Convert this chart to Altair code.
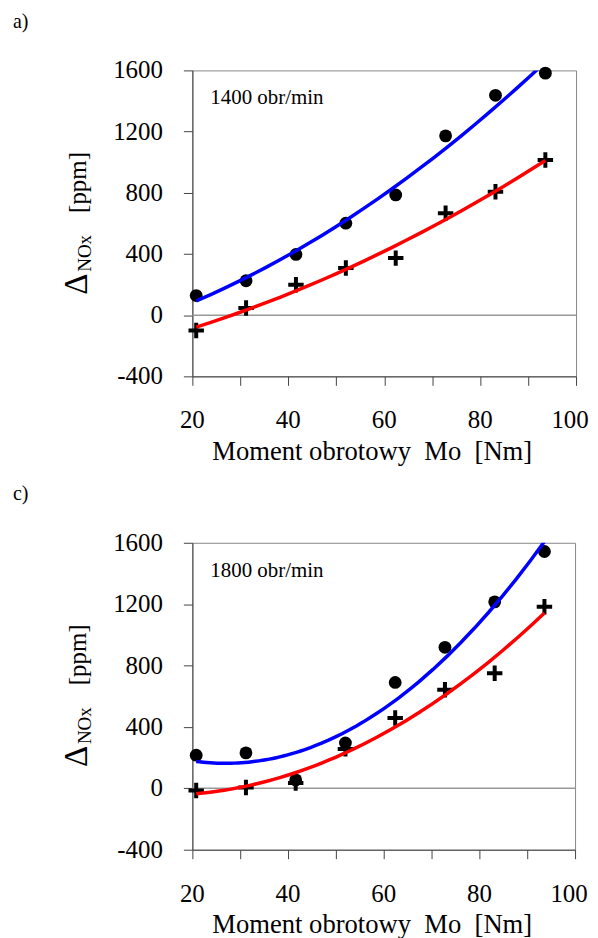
import altair as alt
import pandas as pd

# ---- data ----
torque = [20.8, 31.2, 41.6, 52.0, 62.4, 72.8, 83.2, 93.6]
a_circle = [128, 225, 397, 601, 786, 1172, 1437, 1582]
a_plus = [-100, 47, 199, 308, 373, 666, 807, 1014]
c_circle = [216, 231, 55, 296, 690, 919, 1215, 1543]
c_plus = [-14, 5, 35, 257, 458, 642, 750, 1183]

panel_tags = ["a)", "c)"]
speed_labels = ["1400 obr/min", "1800 obr/min"]
x_ticks = [20, 30, 40, 50, 60, 70, 80, 90, 100]
y_ticks = [-400, -200, 0, 200, 400, 600, 800, 1000, 1200, 1400, 1600]
x_labels = [20, 40, 60, 80, 100]
y_labels = [-400, 0, 400, 800, 1200, 1600]
x_title = "Moment\u00a0obrotowy\u00a0\u00a0Mo\u00a0\u00a0[Nm]"

FONT = "Liberation Serif"
PLUS = "M-1,0L1,0M0,-1L0,1"
AX = dict(
    titleFont=FONT, titleFontSize=26.7, titleFontWeight="normal", titleColor="black",
    domainColor="#444444", tickColor="#444444", tickSize=9,
    grid=False, labels=False,
)


def panel(circle, plus, tag, speed, w, h):
    df = pd.DataFrame({
        "x": torque + torque,
        "y": circle + plus,
        "s": ["circle"] * len(torque) + ["plus"] * len(torque),
    })
    xs = alt.Scale(domain=[20, 100], nice=False, zero=False)
    ys = alt.Scale(domain=[-400, 1600], nice=False, zero=False)
    x_enc = alt.X(
        "x:Q", scale=xs,
        axis=alt.Axis(values=x_ticks, title=x_title, titleX=180, titlePadding=53, **AX),
    )
    y_enc = alt.Y(
        "y:Q", scale=ys,
        axis=alt.Axis(values=y_ticks, title=None, **AX),
    )
    base = alt.Chart(df)
    zero = alt.Chart(pd.DataFrame({"y": [0]})).mark_rule(
        color="#999999", strokeWidth=1.5
    ).encode(y=y_enc)
    circles = base.transform_filter("datum.s == 'circle'").mark_point(
        shape="circle", filled=True, size=165, color="black", opacity=1
    ).encode(x=x_enc, y=y_enc)
    pluses = base.transform_filter("datum.s == 'plus'").mark_point(
        shape=PLUS, filled=False, size=240, stroke="black", strokeWidth=4, opacity=1
    ).encode(x=x_enc, y=y_enc)
    fits = base.transform_regression(
        "x", "y", method="poly", order=2, groupby=["s"]
    ).mark_line(strokeWidth=3.5, clip=True).encode(
        x=x_enc,
        y=y_enc,
        color=alt.Color(
            "s:N",
            scale=alt.Scale(domain=["circle", "plus"], range=["#0000ff", "#ff0000"]),
            legend=None,
        ),
    )
    # tick labels (serif), placed through the same scales
    xl = pd.DataFrame({"x": x_labels, "t": [str(v) for v in x_labels]})
    x_lab = alt.Chart(xl).transform_filter("datum.x < 100").mark_text(
        font=FONT, fontSize=25, align="center", baseline="middle", color="black"
    ).encode(x=alt.X("x:Q", scale=xs), y=alt.value(h + 44), text="t:N")
    x_lab_end = alt.Chart(xl).transform_filter("datum.x == 100").mark_text(
        font=FONT, fontSize=25, align="center", baseline="middle", color="black", dx=-6
    ).encode(x=alt.X("x:Q", scale=xs), y=alt.value(h + 44), text="t:N")
    yl = pd.DataFrame({"y": y_labels, "t": [str(v) for v in y_labels]})
    y_lab = alt.Chart(yl).mark_text(
        font=FONT, fontSize=25, align="right", baseline="middle", color="black"
    ).encode(y=alt.Y("y:Q", scale=ys), x=alt.value(-29.5), text="t:N")

    one = pd.DataFrame({"k": [0]})
    tag_t = alt.Chart(one).mark_text(
        text=tag, font=FONT, fontSize=20, align="left", baseline="middle", color="black"
    ).encode(x=alt.value(-180), y=alt.value(-49))
    speed_t = alt.Chart(one).mark_text(
        text=speed, font=FONT, fontSize=21, align="left", baseline="middle", color="black"
    ).encode(x=alt.value(18), y=alt.value(28))
    delta_t = alt.Chart(one).mark_text(
        text="Δ", font=FONT, fontSize=33, align="left", baseline="alphabetic",
        angle=270, color="black"
    ).encode(x=alt.value(-106), y=alt.value(225))
    nox_t = alt.Chart(one).mark_text(
        text="NOx", font=FONT, fontSize=19, align="left", baseline="alphabetic",
        angle=270, color="black"
    ).encode(x=alt.value(-102), y=alt.value(202))
    ppm_t = alt.Chart(one).mark_text(
        text="[ppm]", font=FONT, fontSize=25, align="left", baseline="alphabetic",
        angle=270, color="black"
    ).encode(x=alt.value(-107), y=alt.value(143))
    return alt.layer(
        zero, circles, pluses, fits, x_lab, x_lab_end, y_lab,
        tag_t, speed_t, delta_t, nox_t, ppm_t
    ).properties(width=w, height=h)


top = panel(a_circle, a_plus, panel_tags[0], speed_labels[0], 385, 307)
bottom = panel(c_circle, c_plus, panel_tags[1], speed_labels[1], 384, 308)

chart = alt.vconcat(top, bottom, spacing=17).properties(
    padding={"left": 4, "top": 1, "right": 0, "bottom": 5}
).configure(font=FONT).configure_axis(**AX).configure_view(
    stroke="#888888", strokeWidth=1
)

chart.save("out.html", embed_options={"renderer": "svg", "actions": False})
